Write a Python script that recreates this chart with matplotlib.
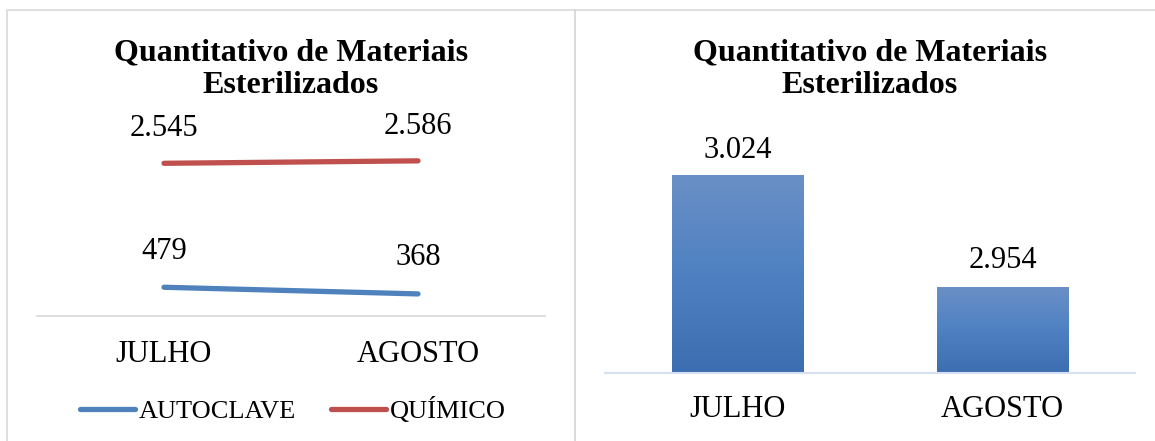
import matplotlib
matplotlib.use("Agg")
import matplotlib.pyplot as plt
import numpy as np
from matplotlib.patches import Rectangle

plt.rcParams['font.family'] = ['Liberation Serif', 'DejaVu Serif']

meses = ['JULHO', 'AGOSTO']
autoclave = [479, 368]
quimico = [2545, 2586]
total = [3024, 2954]
titulo = 'Quantitativo de Materiais\nEsterilizados'

azul = '#4f81bd'
vermelho = '#c0504d'


def fmt(v):
    return f'{v:,}'.replace(',', '.')


fig = plt.figure(figsize=(11.55, 4.41), dpi=100)

# panel borders
for x0, w in [(7, 568), (575, 590)]:
    fig.patches.append(Rectangle((x0 / 1155, -0.05), w / 1155, 1.05 - 10 / 441,
                                 transform=fig.transFigure, fill=False,
                                 edgecolor='#d9d9d9', linewidth=1.2))

# left: line chart
ax1 = fig.add_axes([37 / 1155, 1 - 316 / 441, 508 / 1155, 180 / 441])
x = np.arange(len(meses))
ax1.plot(x, autoclave, color=azul, lw=3.8, solid_capstyle='round', label='AUTOCLAVE')
ax1.plot(x, quimico, color=vermelho, lw=3.8, solid_capstyle='round', label='QUÍMICO')
ax1.set_xlim(-0.5, 1.5)
ax1.set_ylim(0, 3000)
for xi, v in zip(x, autoclave):
    ax1.annotate(fmt(v), (xi, v), xytext=(0, 26), textcoords='offset points',
                 ha='center', va='center', fontsize=22)
for xi, v in zip(x, quimico):
    ax1.annotate(fmt(v), (xi, v), xytext=(0, 25), textcoords='offset points',
                 ha='center', va='center', fontsize=22)
ax1.set_xticks(x)
ax1.set_xticklabels(meses, fontsize=22)
ax1.tick_params(axis='x', length=0, pad=17)
ax1.set_yticks([])
for s in ['top', 'left', 'right']:
    ax1.spines[s].set_visible(False)
ax1.spines['bottom'].set_color('#d9d9d9')
ax1.spines['bottom'].set_linewidth(1.2)
fig.text(291 / 1155, 1 - 69 / 441, titulo, ha='center', va='center',
         fontsize=23, fontweight='bold', linespacing=1.15)
fig.legend(*ax1.get_legend_handles_labels(), loc='center', ncol=2,
           bbox_to_anchor=(293 / 1155, 1 - 410 / 441), frameon=False,
           fontsize=19, handlelength=2.1, handletextpad=0.15, columnspacing=1.3)

# right: bar chart
ax2 = fig.add_axes([605 / 1155, 1 - 373 / 441, 530 / 1155, 224 / 441])
bars = ax2.bar(x, total, width=0.495, bottom=0, color=azul)
ax2.set_xlim(-0.5, 1.5)
ax2.set_ylim(2900, 3040)
grad = np.linspace(0, 1, 256).reshape(-1, 1)
cmap = matplotlib.colors.LinearSegmentedColormap.from_list('g', ['#3b6db0', '#4f81c2', '#6a90c6'])
for b in bars:
    bx, bw, bt = b.get_x(), b.get_width(), b.get_height()
    b.set_facecolor('none')
    im = ax2.imshow(grad, extent=[bx, bx + bw, 2900, bt], origin='lower',
                    cmap=cmap, aspect='auto', zorder=2)
    im.set_clip_path(b)
for xi, v, off in zip(x, total, [17, 19]):
    ax2.annotate(fmt(v), (xi, v), xytext=(0, off), textcoords='offset points',
                 ha='center', va='center', fontsize=22)
ax2.set_xticks(x)
ax2.set_xticklabels(meses, fontsize=22)
ax2.tick_params(axis='x', length=0, pad=16)
ax2.set_yticks([])
for s in ['top', 'left', 'right']:
    ax2.spines[s].set_visible(False)
ax2.spines['bottom'].set_color('#d5e1f0')
ax2.spines['bottom'].set_linewidth(1.5)
ax2.spines['bottom'].set_zorder(3)
fig.text(870 / 1155, 1 - 69 / 441, titulo, ha='center', va='center',
         fontsize=23, fontweight='bold', linespacing=1.15)

fig.savefig('out.png', dpi=100)
